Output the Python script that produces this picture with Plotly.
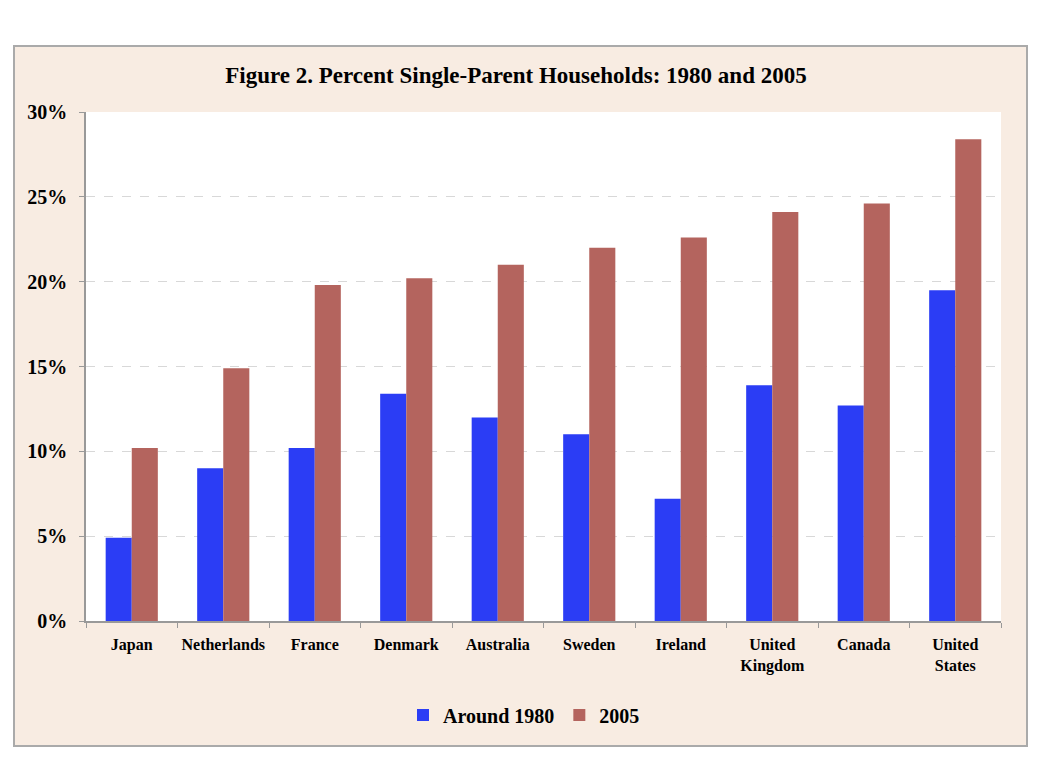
import plotly.graph_objects as go

countries = ["Japan", "Netherlands", "France", "Denmark", "Australia", "Sweden",
             "Ireland", "United<br>Kingdom", "Canada", "United<br>States"]
around_1980 = [4.9, 9.0, 10.2, 13.4, 12.0, 11.0, 7.2, 13.9, 12.7, 19.5]
y2005 = [10.2, 14.9, 19.8, 20.2, 21.0, 22.0, 22.6, 24.1, 24.6, 28.4]
y_ticks = [0, 5, 10, 15, 20, 25, 30]
y_tick_labels = ["0%", "5%", "10%", "15%", "20%", "25%", "30%"]

FONT = "Liberation Serif"
BEIGE = "#f8ece2"

fig = go.Figure()
fig.add_trace(go.Bar(name="Around 1980", x=countries, y=around_1980,
                     marker=dict(color="#2b3df5", line=dict(width=0))))
fig.add_trace(go.Bar(name="2005", x=countries, y=y2005,
                     marker=dict(color="#b4645e", line=dict(width=0))))

OFF = 8  # page body margin
W, H = 1040, 760
# target pixel positions in the screenshot
L, R, T, B = 86, 1001, 112, 621
ml, mt = L - OFF, T - OFF
mr = W - (R - OFF)
mb = H - (B - OFF)
pw = W - ml - mr
ph = H - mt - mb

def xp(px):
    return (px - L) / pw

def yp(py):
    return (B - py) / ph

fig.update_layout(
    width=W, height=H,
    margin=dict(l=ml, r=mr, t=mt, b=mb, autoexpand=False),
    paper_bgcolor="white",
    plot_bgcolor="white",
    barmode="group",
    bargap=0.43,
    bargroupgap=0,
    font=dict(family=FONT, color="black"),
    title=dict(text="Figure 2. Percent Single-Parent Households: 1980 and 2005",
               x=(516 - OFF) / W, xanchor="center",
               y=1 - (75 - OFF) / H, yanchor="middle",
               font=dict(family=FONT, size=23, color="black", weight="bold")),
    legend=dict(orientation="h", x=xp(524), xanchor="center",
                y=yp(715), yanchor="middle",
                font=dict(family=FONT, size=20, color="black", weight="bold"),
                bgcolor="rgba(0,0,0,0)", itemwidth=30, traceorder="normal"),
    xaxis=dict(showline=True, linecolor="#999999", linewidth=1.5,
               ticks="outside", ticklen=5, tickcolor="#999999",
               tickson="boundaries", tickangle=0, ticklabelstandoff=8,
               tickfont=dict(family=FONT, size=16, color="black", weight="bold"),
               showgrid=False),
    yaxis=dict(range=[0, 30], tickvals=y_ticks, ticktext=y_tick_labels,
               showline=True, linecolor="#999999", linewidth=1.5,
               ticks="outside", ticklen=5, tickcolor="#999999",
               ticklabelstandoff=8,
               tickfont=dict(family=FONT, size=20, color="black", weight="bold"),
               showgrid=True, gridcolor="#d8d8d8", griddash="dash", gridwidth=1,
               zeroline=False),
    shapes=[dict(type="rect", xref="paper", yref="paper",
                 x0=xp(14), x1=xp(1027),
                 y0=yp(746), y1=yp(46),
                 fillcolor=BEIGE, line=dict(color="#aaaaaa", width=2),
                 layer="below"),
            dict(type="rect", xref="paper", yref="paper",
                 x0=0, x1=1, y0=0, y1=1,
                 fillcolor="white", line=dict(width=0), layer="below")],
)

fig.write_html("out.html")
